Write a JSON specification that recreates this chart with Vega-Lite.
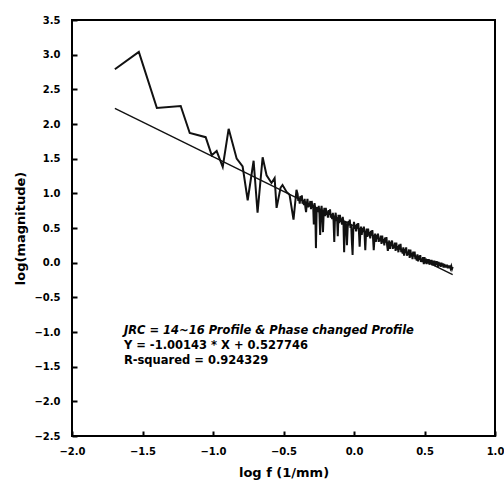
{
  "$schema": "https://vega.github.io/schema/vega-lite/v6.json",
  "width": 423,
  "height": 416,
  "autosize": {"type": "none"},
  "padding": {"left": 72, "top": 20, "right": 9, "bottom": 46},
  "background": "white",
  "config": {
    "view": {"stroke": "#000", "strokeWidth": 2},
    "font": "DejaVu Sans",
    "axis": {
      "grid": false,
      "domain": false,
      "labelFont": "DejaVu Sans",
      "labelFontWeight": "bold",
      "labelFontSize": 10,
      "labelColor": "#000",
      "labelFlush": false,
      "labelOverlap": false,
      "labelBound": false,
      "titleFont": "DejaVu Sans",
      "titleFontWeight": "bold",
      "titleFontSize": 13,
      "titleColor": "#000"
    }
  },
  "datasets": {
    "profile": [
      {"logf": -1.696, "logmag": 2.79},
      {"logf": -1.526, "logmag": 3.04},
      {"logf": -1.398, "logmag": 2.23},
      {"logf": -1.229, "logmag": 2.26},
      {"logf": -1.165, "logmag": 1.87},
      {"logf": -1.052, "logmag": 1.81},
      {"logf": -1.009, "logmag": 1.55},
      {"logf": -0.974, "logmag": 1.61},
      {"logf": -0.931, "logmag": 1.38},
      {"logf": -0.889, "logmag": 1.93},
      {"logf": -0.832, "logmag": 1.50},
      {"logf": -0.790, "logmag": 1.39},
      {"logf": -0.754, "logmag": 0.90},
      {"logf": -0.712, "logmag": 1.47},
      {"logf": -0.684, "logmag": 0.72},
      {"logf": -0.648, "logmag": 1.52},
      {"logf": -0.620, "logmag": 1.26},
      {"logf": -0.585, "logmag": 1.15},
      {"logf": -0.563, "logmag": 1.22},
      {"logf": -0.549, "logmag": 0.79},
      {"logf": -0.521, "logmag": 1.08},
      {"logf": -0.507, "logmag": 1.12},
      {"logf": -0.478, "logmag": 1.02},
      {"logf": -0.457, "logmag": 0.98},
      {"logf": -0.429, "logmag": 0.62},
      {"logf": -0.408, "logmag": 1.05},
      {"logf": -0.400, "logmag": 0.99},
      {"logf": -0.395, "logmag": 0.89},
      {"logf": -0.390, "logmag": 0.94},
      {"logf": -0.385, "logmag": 0.85},
      {"logf": -0.380, "logmag": 0.96},
      {"logf": -0.375, "logmag": 0.89},
      {"logf": -0.370, "logmag": 0.97},
      {"logf": -0.365, "logmag": 0.85},
      {"logf": -0.360, "logmag": 0.90},
      {"logf": -0.355, "logmag": 0.83},
      {"logf": -0.350, "logmag": 0.92},
      {"logf": -0.345, "logmag": 0.80},
      {"logf": -0.340, "logmag": 0.73},
      {"logf": -0.335, "logmag": 0.84},
      {"logf": -0.330, "logmag": 0.92},
      {"logf": -0.325, "logmag": 0.80},
      {"logf": -0.320, "logmag": 0.85},
      {"logf": -0.315, "logmag": 0.81},
      {"logf": -0.310, "logmag": 0.89},
      {"logf": -0.305, "logmag": 0.77},
      {"logf": -0.300, "logmag": 0.89},
      {"logf": -0.295, "logmag": 0.79},
      {"logf": -0.290, "logmag": 0.84},
      {"logf": -0.285, "logmag": 0.55},
      {"logf": -0.280, "logmag": 0.86},
      {"logf": -0.275, "logmag": 0.79},
      {"logf": -0.270, "logmag": 0.21},
      {"logf": -0.265, "logmag": 0.75},
      {"logf": -0.260, "logmag": 0.80},
      {"logf": -0.255, "logmag": 0.73},
      {"logf": -0.250, "logmag": 0.82},
      {"logf": -0.245, "logmag": 0.70},
      {"logf": -0.240, "logmag": 0.40},
      {"logf": -0.235, "logmag": 0.74},
      {"logf": -0.230, "logmag": 0.82},
      {"logf": -0.225, "logmag": 0.70},
      {"logf": -0.220, "logmag": 0.44},
      {"logf": -0.215, "logmag": 0.71},
      {"logf": -0.210, "logmag": 0.79},
      {"logf": -0.205, "logmag": 0.67},
      {"logf": -0.200, "logmag": 0.79},
      {"logf": -0.195, "logmag": 0.69},
      {"logf": -0.190, "logmag": 0.74},
      {"logf": -0.185, "logmag": 0.65},
      {"logf": -0.180, "logmag": 0.76},
      {"logf": -0.175, "logmag": 0.69},
      {"logf": -0.170, "logmag": 0.77},
      {"logf": -0.165, "logmag": 0.65},
      {"logf": -0.160, "logmag": 0.70},
      {"logf": -0.155, "logmag": 0.63},
      {"logf": -0.150, "logmag": 0.72},
      {"logf": -0.145, "logmag": 0.60},
      {"logf": -0.140, "logmag": 0.30},
      {"logf": -0.135, "logmag": 0.64},
      {"logf": -0.130, "logmag": 0.72},
      {"logf": -0.125, "logmag": 0.60},
      {"logf": -0.120, "logmag": 0.65},
      {"logf": -0.115, "logmag": 0.38},
      {"logf": -0.110, "logmag": 0.69},
      {"logf": -0.105, "logmag": 0.57},
      {"logf": -0.100, "logmag": 0.69},
      {"logf": -0.095, "logmag": 0.59},
      {"logf": -0.090, "logmag": 0.64},
      {"logf": -0.085, "logmag": 0.55},
      {"logf": -0.080, "logmag": 0.66},
      {"logf": -0.075, "logmag": 0.59},
      {"logf": -0.070, "logmag": 0.15},
      {"logf": -0.065, "logmag": 0.55},
      {"logf": -0.060, "logmag": 0.60},
      {"logf": -0.055, "logmag": 0.53},
      {"logf": -0.050, "logmag": 0.25},
      {"logf": -0.045, "logmag": 0.50},
      {"logf": -0.040, "logmag": 0.60},
      {"logf": -0.035, "logmag": 0.54},
      {"logf": -0.030, "logmag": 0.62},
      {"logf": -0.025, "logmag": 0.50},
      {"logf": -0.020, "logmag": 0.55},
      {"logf": -0.015, "logmag": 0.30},
      {"logf": -0.010, "logmag": 0.11},
      {"logf": -0.005, "logmag": 0.47},
      {"logf": 0.000, "logmag": 0.59},
      {"logf": 0.005, "logmag": 0.49},
      {"logf": 0.010, "logmag": 0.54},
      {"logf": 0.015, "logmag": 0.45},
      {"logf": 0.020, "logmag": 0.56},
      {"logf": 0.025, "logmag": 0.49},
      {"logf": 0.030, "logmag": 0.57},
      {"logf": 0.035, "logmag": 0.45},
      {"logf": 0.040, "logmag": 0.23},
      {"logf": 0.045, "logmag": 0.43},
      {"logf": 0.050, "logmag": 0.52},
      {"logf": 0.055, "logmag": 0.40},
      {"logf": 0.060, "logmag": 0.50},
      {"logf": 0.065, "logmag": 0.44},
      {"logf": 0.070, "logmag": 0.52},
      {"logf": 0.075, "logmag": 0.40},
      {"logf": 0.080, "logmag": 0.18},
      {"logf": 0.085, "logmag": 0.41},
      {"logf": 0.090, "logmag": 0.49},
      {"logf": 0.095, "logmag": 0.37},
      {"logf": 0.100, "logmag": 0.49},
      {"logf": 0.105, "logmag": 0.39},
      {"logf": 0.110, "logmag": 0.44},
      {"logf": 0.115, "logmag": 0.35},
      {"logf": 0.120, "logmag": 0.46},
      {"logf": 0.125, "logmag": 0.39},
      {"logf": 0.130, "logmag": 0.47},
      {"logf": 0.135, "logmag": 0.35},
      {"logf": 0.140, "logmag": 0.18},
      {"logf": 0.145, "logmag": 0.33},
      {"logf": 0.150, "logmag": 0.42},
      {"logf": 0.155, "logmag": 0.30},
      {"logf": 0.160, "logmag": 0.40},
      {"logf": 0.165, "logmag": 0.34},
      {"logf": 0.170, "logmag": 0.42},
      {"logf": 0.175, "logmag": 0.30},
      {"logf": 0.180, "logmag": 0.35},
      {"logf": 0.185, "logmag": 0.31},
      {"logf": 0.190, "logmag": 0.39},
      {"logf": 0.195, "logmag": 0.27},
      {"logf": 0.200, "logmag": 0.39},
      {"logf": 0.205, "logmag": 0.29},
      {"logf": 0.210, "logmag": 0.34},
      {"logf": 0.215, "logmag": 0.25},
      {"logf": 0.220, "logmag": 0.36},
      {"logf": 0.225, "logmag": 0.29},
      {"logf": 0.230, "logmag": 0.37},
      {"logf": 0.235, "logmag": 0.25},
      {"logf": 0.240, "logmag": 0.17},
      {"logf": 0.245, "logmag": 0.23},
      {"logf": 0.250, "logmag": 0.32},
      {"logf": 0.255, "logmag": 0.20},
      {"logf": 0.260, "logmag": 0.30},
      {"logf": 0.265, "logmag": 0.24},
      {"logf": 0.270, "logmag": 0.32},
      {"logf": 0.275, "logmag": 0.20},
      {"logf": 0.280, "logmag": 0.25},
      {"logf": 0.285, "logmag": 0.21},
      {"logf": 0.290, "logmag": 0.29},
      {"logf": 0.295, "logmag": 0.17},
      {"logf": 0.300, "logmag": 0.29},
      {"logf": 0.305, "logmag": 0.19},
      {"logf": 0.310, "logmag": 0.24},
      {"logf": 0.315, "logmag": 0.15},
      {"logf": 0.320, "logmag": 0.26},
      {"logf": 0.325, "logmag": 0.19},
      {"logf": 0.330, "logmag": 0.27},
      {"logf": 0.335, "logmag": 0.15},
      {"logf": 0.340, "logmag": 0.20},
      {"logf": 0.345, "logmag": 0.13},
      {"logf": 0.350, "logmag": 0.22},
      {"logf": 0.355, "logmag": 0.10},
      {"logf": 0.360, "logmag": 0.20},
      {"logf": 0.365, "logmag": 0.14},
      {"logf": 0.370, "logmag": 0.22},
      {"logf": 0.375, "logmag": 0.10},
      {"logf": 0.380, "logmag": 0.15},
      {"logf": 0.385, "logmag": 0.11},
      {"logf": 0.390, "logmag": 0.19},
      {"logf": 0.395, "logmag": 0.07},
      {"logf": 0.400, "logmag": 0.19},
      {"logf": 0.405, "logmag": 0.09},
      {"logf": 0.410, "logmag": 0.14},
      {"logf": 0.415, "logmag": 0.05},
      {"logf": 0.420, "logmag": 0.16},
      {"logf": 0.425, "logmag": 0.09},
      {"logf": 0.430, "logmag": 0.16},
      {"logf": 0.435, "logmag": 0.05},
      {"logf": 0.440, "logmag": 0.10},
      {"logf": 0.445, "logmag": 0.03},
      {"logf": 0.450, "logmag": 0.12},
      {"logf": 0.455, "logmag": 0.02},
      {"logf": 0.460, "logmag": 0.10},
      {"logf": 0.465, "logmag": 0.04},
      {"logf": 0.470, "logmag": 0.11},
      {"logf": 0.475, "logmag": 0.01},
      {"logf": 0.480, "logmag": 0.05},
      {"logf": 0.485, "logmag": 0.01},
      {"logf": 0.490, "logmag": 0.08},
      {"logf": 0.495, "logmag": -0.02},
      {"logf": 0.500, "logmag": 0.08},
      {"logf": 0.505, "logmag": -0.01},
      {"logf": 0.510, "logmag": 0.06},
      {"logf": 0.515, "logmag": -0.02},
      {"logf": 0.520, "logmag": 0.05},
      {"logf": 0.525, "logmag": -0.01},
      {"logf": 0.530, "logmag": 0.05},
      {"logf": 0.535, "logmag": -0.03},
      {"logf": 0.540, "logmag": 0.04},
      {"logf": 0.545, "logmag": -0.01},
      {"logf": 0.550, "logmag": 0.04},
      {"logf": 0.555, "logmag": -0.04},
      {"logf": 0.560, "logmag": 0.03},
      {"logf": 0.565, "logmag": -0.03},
      {"logf": 0.570, "logmag": 0.03},
      {"logf": 0.575, "logmag": -0.05},
      {"logf": 0.580, "logmag": 0.02},
      {"logf": 0.585, "logmag": -0.03},
      {"logf": 0.590, "logmag": 0.02},
      {"logf": 0.595, "logmag": -0.06},
      {"logf": 0.600, "logmag": 0.01},
      {"logf": 0.605, "logmag": -0.05},
      {"logf": 0.610, "logmag": 0.00},
      {"logf": 0.615, "logmag": -0.06},
      {"logf": 0.620, "logmag": 0.00},
      {"logf": 0.625, "logmag": -0.05},
      {"logf": 0.630, "logmag": -0.01},
      {"logf": 0.635, "logmag": -0.07},
      {"logf": 0.640, "logmag": -0.02},
      {"logf": 0.645, "logmag": -0.07},
      {"logf": 0.650, "logmag": -0.03},
      {"logf": 0.655, "logmag": -0.07},
      {"logf": 0.660, "logmag": -0.03},
      {"logf": 0.665, "logmag": -0.08},
      {"logf": 0.670, "logmag": -0.04},
      {"logf": 0.675, "logmag": -0.08},
      {"logf": 0.680, "logmag": -0.04},
      {"logf": 0.685, "logmag": -0.08},
      {"logf": 0.690, "logmag": -0.05},
      {"logf": 0.695, "logmag": -0.09},
      {"logf": 0.700, "logmag": -0.06}
    ],
    "fit": [
      {"logf": -1.696, "logmag": 2.226},
      {"logf": 0.70, "logmag": -0.173}
    ],
    "title": [
      {"logf": -1.632, "logmag": -0.99, "label": "JRC = 14~16 Profile & Phase changed Profile"}
    ],
    "stats": [
      {"logf": -1.632, "logmag": -1.205, "label": "Y = -1.00143 * X + 0.527746"},
      {"logf": -1.632, "logmag": -1.42, "label": "R-squared = 0.924329"}
    ]
  },
  "layer": [
    {
      "data": {"name": "profile"},
      "mark": {"type": "line", "color": "#111", "strokeWidth": 2},
      "encoding": {
        "x": {
          "field": "logf", "type": "quantitative",
          "scale": {"domain": [-2, 1], "nice": false, "zero": false},
          "axis": {"title": "log f (1/mm)", "values": [-2, -1.5, -1, -0.5, 0, 0.5, 1], "tickCount": 30, "format": ".1f", "labelOverlap": false, "ticks": true, "tickSize": 5, "tickWidth": 2, "tickColor": "black", "tickOpacity": 1, "offset": -5, "zindex": 1, "labelPadding": 10, "titlePadding": 10}
        },
        "y": {
          "field": "logmag", "type": "quantitative",
          "scale": {"domain": [-2.5, 3.5], "nice": false, "zero": false},
          "axis": {"title": "log(magnitude)", "values": [-2.5, -2, -1.5, -1, -0.5, 0, 0.5, 1, 1.5, 2, 2.5, 3, 3.5], "tickCount": 30, "format": ".1f", "labelOverlap": false, "ticks": true, "tickSize": 5, "tickWidth": 2, "tickColor": "black", "tickOpacity": 1, "offset": -5, "zindex": 1, "labelPadding": 12, "titlePadding": 6}
        }
      }
    },
    {
      "data": {"name": "fit"},
      "mark": {"type": "line", "color": "#111", "strokeWidth": 1.4},
      "encoding": {
        "x": {"field": "logf", "type": "quantitative"},
        "y": {"field": "logmag", "type": "quantitative"}
      }
    },
    {
      "data": {"name": "title"},
      "mark": {"type": "text", "align": "left", "baseline": "middle", "fontWeight": "bold", "fontStyle": "italic", "fontSize": 11.5, "font": "DejaVu Sans", "color": "#000"},
      "encoding": {
        "x": {"field": "logf", "type": "quantitative"},
        "y": {"field": "logmag", "type": "quantitative"},
        "text": {"field": "label"}
      }
    },
    {
      "data": {"name": "stats"},
      "mark": {"type": "text", "align": "left", "baseline": "middle", "fontWeight": "bold", "fontSize": 11.5, "font": "DejaVu Sans", "color": "#000"},
      "encoding": {
        "x": {"field": "logf", "type": "quantitative"},
        "y": {"field": "logmag", "type": "quantitative"},
        "text": {"field": "label"}
      }
    }
  ]
}
